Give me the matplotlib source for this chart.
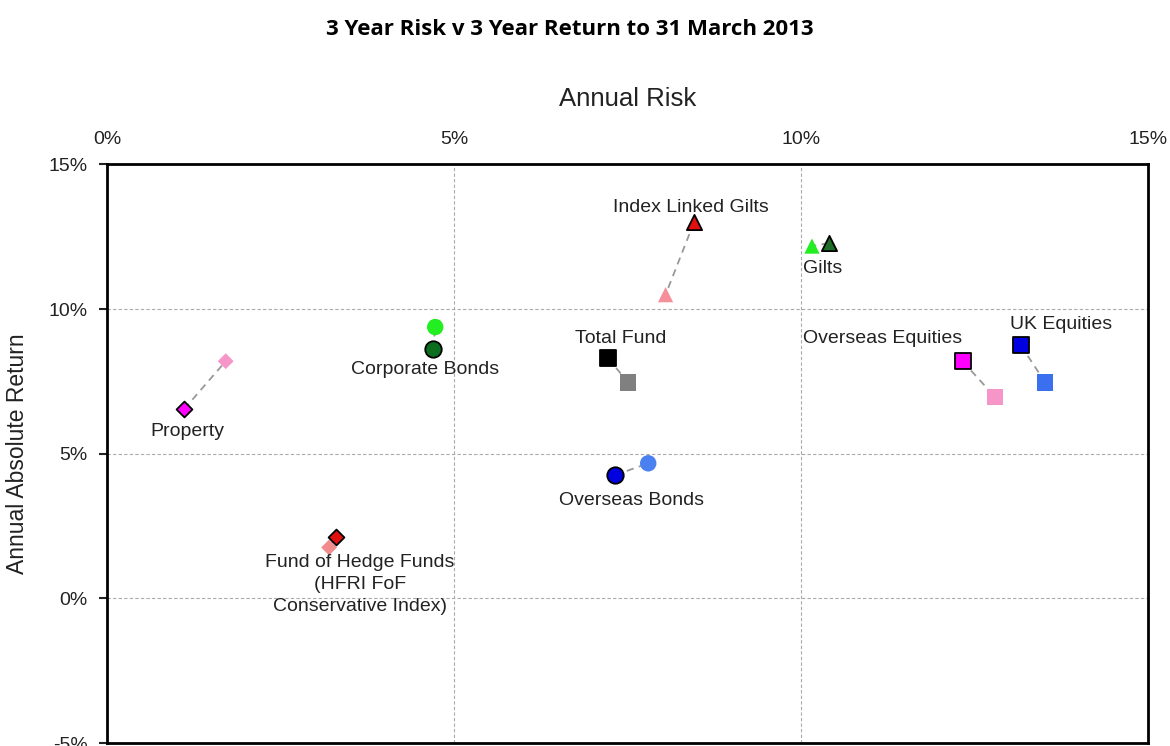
import matplotlib.pyplot as plt
from matplotlib.ticker import FuncFormatter

plt.rcParams['font.family'] = ['Liberation Sans', 'DejaVu Sans']

# Dữ liệu: rủi ro 3 năm (%) và lợi nhuận 3 năm (%)
assets = ['Property', 'Corporate Bonds', 'Fund of Hedge Funds', 'Index Linked Gilts',
          'Gilts', 'Total Fund', 'Overseas Bonds', 'Overseas Equities', 'UK Equities']
fund_risk = [1.11, 4.70, 3.30, 8.46, 10.40, 7.22, 7.32, 12.33, 13.17]
fund_return = [6.54, 8.62, 2.11, 13.00, 12.28, 8.30, 4.26, 8.20, 8.75]
bench_risk = [1.71, 4.73, 3.20, 8.05, 10.16, 7.51, 7.80, 12.80, 13.52]
bench_return = [8.20, 9.38, 1.76, 10.50, 12.18, 7.47, 4.67, 6.96, 7.47]

markers = ['D', 'o', 'D', '^', '^', 's', 'o', 's', 's']
fund_colors = ['#ff00ff', '#0a6e1e', '#e01010', '#e01010', '#1e6e28', '#000000',
               '#0000e0', '#ff00ff', '#0000e0']
bench_colors = ['#f595c8', '#22ee22', '#f28c8c', '#f5909a', '#22ee22', '#808080',
                '#4a80f0', '#f595c8', '#3a70f0']
sizes = [65, 140, 65, 120, 120, 140, 140, 140, 140]

labels = ['Property', 'Corporate Bonds', 'Fund of Hedge Funds\n(HFRI FoF\nConservative Index)',
          'Index Linked Gilts', 'Gilts', 'Total Fund', 'Overseas Bonds',
          'Overseas Equities', 'UK Equities']
label_x = [1.16, 4.59, 3.64, 8.42, 10.31, 7.41, 7.56, 11.18, 13.75]
label_y = [5.78, 7.9, 0.48, 13.52, 11.4, 8.98, 3.4, 8.99, 9.48]
label_gap = [1.15, 1.15, 1.4, 1.15, 1.15, 1.15, 1.15, 1.15, 1.15]

fig = plt.figure(figsize=(11.7, 7.46), dpi=100)
ax = fig.add_axes([0.0915, 0.004, 0.8895, 0.7755])

for i in range(len(assets)):
    ax.plot([fund_risk[i], bench_risk[i]], [fund_return[i], bench_return[i]],
            color='#999999', linestyle=(0, (4, 3)), linewidth=1.3, zorder=2)
    ax.scatter(bench_risk[i], bench_return[i], marker=markers[i], s=sizes[i],
               color=bench_colors[i], edgecolors='none', zorder=3)
    ax.scatter(fund_risk[i], fund_return[i], marker=markers[i], s=sizes[i],
               color=fund_colors[i], edgecolors='black', linewidths=1.3, zorder=4)
    ax.text(label_x[i], label_y[i], labels[i], ha='center', va='center',
            fontsize=14, color='#222222', linespacing=label_gap[i], zorder=5)

ax.set_xlim(0, 15)
ax.set_ylim(-5, 15)
ax.set_xticks([0, 5, 10, 15])
ax.set_yticks([-5, 0, 5, 10, 15])
pct = FuncFormatter(lambda v, p: f'{v:.0f}%')
ax.xaxis.set_major_formatter(pct)
ax.yaxis.set_major_formatter(pct)
ax.xaxis.tick_top()
ax.tick_params(axis='x', length=0, pad=12, labelsize=14, colors='#222222')
ax.tick_params(axis='y', length=6, width=1.5, pad=8, labelsize=14, colors='#222222')

ax.grid(True, color='#aaaaaa', linestyle=(0, (3, 2)), linewidth=0.8)
ax.set_axisbelow(True)
for s in ax.spines.values():
    s.set_linewidth(2)
    s.set_color('black')

ax.xaxis.set_label_position('top')
ax.set_xlabel('Annual Risk', fontsize=18.5, labelpad=18, color='#222222')
ax.set_ylabel('Annual Absolute Return', fontsize=16.5, labelpad=14, color='#222222')

fig.text(0.487, 0.96, '3 Year Risk v 3 Year Return to 31 March 2013',
         ha='center', va='center', fontsize=16, fontweight='bold',
         family=['Open Sans', 'DejaVu Sans'])

fig.savefig('out.png', dpi=100)
